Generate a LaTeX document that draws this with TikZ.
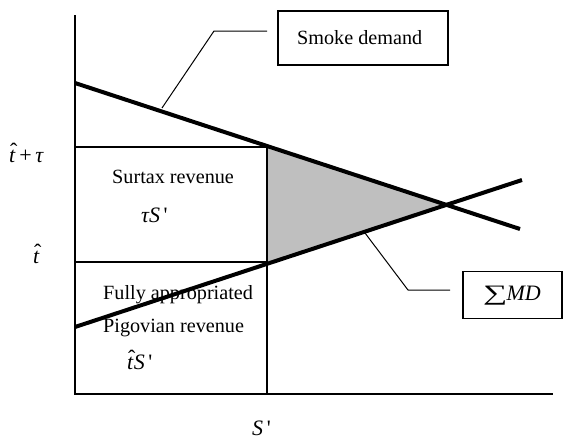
\documentclass[tikz,border=0pt]{standalone}
\usepackage{fontspec}
\usepackage{graphicx}
\setmainfont{Liberation Serif}
% italic t with a circumflex centred over it
\newcommand\hatt{\ooalign{\textit{t}\cr\hidewidth\kern0.12em\raisebox{0.14em}{ˆ}\hidewidth\cr}}
\newcommand\pr{\,\textquotesingle}
\begin{document}
\begin{tikzpicture}[x=1pt,y=-1pt,
  every node/.style={font=\fontsize{20.2}{23}\selectfont},
  axis/.style={line width=1.6pt},
  thin/.style={line width=1.2pt},
  curve/.style={line width=4pt},
  leader/.style={line width=1pt},
  labelbox/.style={draw,line width=1.2pt,rectangle,inner sep=0pt},
  txt/.style={anchor=base west,inner sep=0pt},
  mth/.style={anchor=base west,inner sep=0pt,font=\fontsize{22}{25}\selectfont}]
\useasboundingbox (0,0) rectangle (563,439);
% key points
\coordinate (O) at (75,394);
\coordinate (ytop) at (75,15);
\coordinate (xend) at (553,394);
\coordinate (dA) at (75,83);
\coordinate (dB) at (520,229);
\coordinate (mA) at (75,327);
\coordinate (mB) at (522,180);
\coordinate (P) at (267,147);
\coordinate (Q) at (267,262);
\coordinate (E) at (446,205);
\coordinate (tt) at (75,147);
\coordinate (tl) at (75,262);
\coordinate (Sx) at (267,394);
% deadweight triangle
\fill[gray!50] (P) -- (Q) -- (E) -- cycle;
% axes
\draw[axis] (ytop) -- (O) -- (xend);
% revenue rectangles
\draw[thin] (tt) -- (P) -- (Sx);
\draw[thin] (tl) -- (Q);
% demand and marginal damage lines
\draw[curve] (dA) -- (dB);
\draw[curve] (mA) -- (mB);
% label boxes and leaders
\node[labelbox,minimum width=170pt,minimum height=54pt] (smoke) at (363,38) {};
\node[txt] at (297,45) {Smoke demand};
\node[labelbox,minimum width=99pt,minimum height=47pt] (md) at (512.5,295) {};
\node[mth] at (483,300) {\scalebox{1.55}[1.0]{∑}\kern-1pt\textit{MD}};
\coordinate (s1) at (162,108);
\coordinate (s2) at (214,31);
\coordinate (s3) at (267,31);
\draw[leader] (s1) -- (s2) -- (s3);
\coordinate (m1) at (365,233);
\coordinate (m2) at (408,290);
\coordinate (m3) at (450,290);
\draw[leader] (m1) -- (m2) -- (m3);
% axis labels
\node[mth] at (9,162) {\hatt\,+\,\textit{τ}};
\node[mth] at (33,263) {\hatt};
\node[mth] at (252,435) {\textit{S}\pr};
% area labels
\node[txt] at (112,183) {Surtax revenue};
\node[mth] at (141,222) {\textit{τS}\pr};
\node[txt] at (103,299) {Fully appropriated};
\node[txt] at (103,332) {Pigovian revenue};
\node[mth] at (127,369) {\hatt\textit{S}\pr};
\end{tikzpicture}
\end{document}
